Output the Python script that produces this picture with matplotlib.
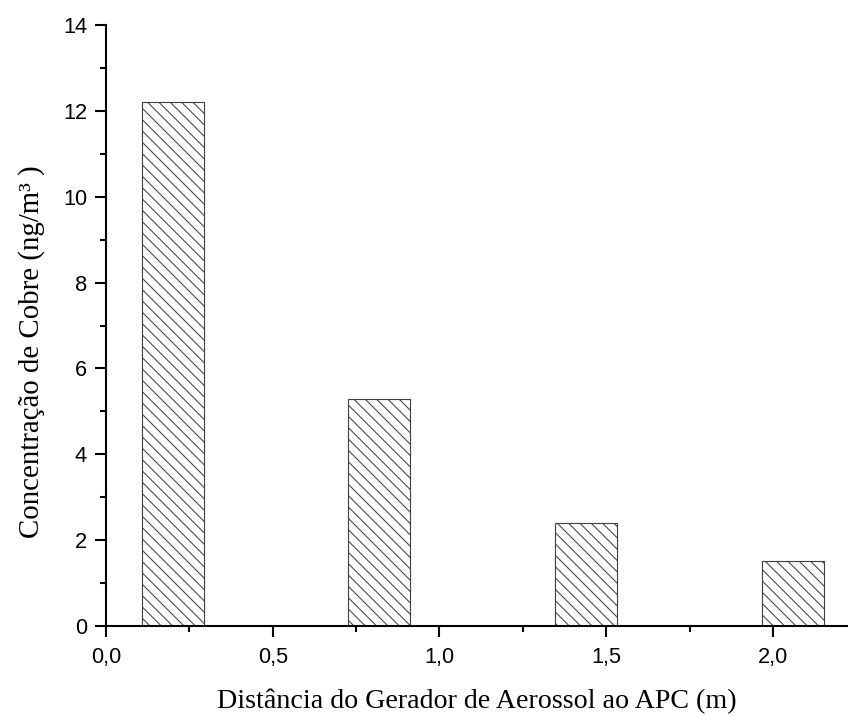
import matplotlib
matplotlib.use('Agg')
import matplotlib.pyplot as plt
from matplotlib.ticker import MultipleLocator, FuncFormatter

# dados
distancia = [0.20, 0.82, 1.44, 2.06]
concentracao = [12.2, 5.3, 2.4, 1.52]
largura = 0.186

plt.rcParams['hatch.linewidth'] = 0.55
plt.rcParams['hatch.color'] = 'black'

dpi = 136
fig = plt.figure(figsize=(848 / dpi, 716 / dpi), dpi=dpi)
ax = fig.add_axes([0.125, 0.1257, 0.875, 0.8393])

ax.bar(distancia, concentracao, width=largura, color='white',
       edgecolor='#404040', linewidth=0.6, hatch='\\\\\\\\')

ax.set_xlim(0, 2.225)
ax.set_ylim(0, 14)
for s in ['top', 'right']:
    ax.spines[s].set_visible(False)
for s in ['left', 'bottom']:
    ax.spines[s].set_linewidth(1.1)

ax.xaxis.set_major_locator(MultipleLocator(0.5))
ax.xaxis.set_minor_locator(MultipleLocator(0.25))
ax.yaxis.set_major_locator(MultipleLocator(2))
ax.yaxis.set_minor_locator(MultipleLocator(1))
ax.xaxis.set_major_formatter(FuncFormatter(lambda v, p: f'{v:.1f}'.replace('.', ',')))
ax.yaxis.set_major_formatter(FuncFormatter(lambda v, p: f'{v:.0f}'))

ax.tick_params(which='major', direction='out', length=6, width=1.1,
               labelsize=11.5, pad=4)
ax.tick_params(which='minor', direction='out', length=3, width=1.1)
ax.tick_params(axis='x', which='major', pad=5)
for lab in ax.get_xticklabels() + ax.get_yticklabels():
    lab.set_family('Liberation Sans')

ax.set_xlabel('Distância do Gerador de Aerossol ao APC (m)',
              family='Liberation Serif', fontsize=14.8, labelpad=11)
ax.set_ylabel('Concentração de Cobre (ng/m³ )',
              family='Liberation Serif', fontsize=15.3)
ax.yaxis.set_label_coords(-0.082, 0.457)

fig.savefig('out.png', dpi=dpi)
